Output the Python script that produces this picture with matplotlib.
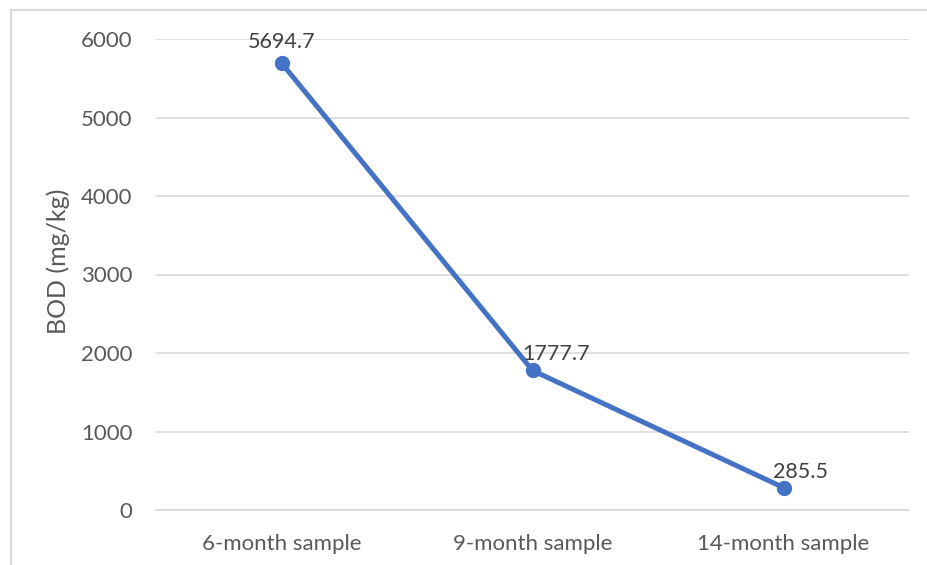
import matplotlib
matplotlib.use('Agg')
from matplotlib import pyplot as plt
from matplotlib.lines import Line2D

# Data
samples = ['6-month sample', '9-month sample', '14-month sample']
bod = [5694.7, 1777.7, 285.5]
label_text = ['5694.7', '1777.7', '285.5']
# small per-label nudges (points) like the hand-placed Excel labels
label_dx = [0, 17, 12]
label_dy = [15, 11.5, 11.5]

plt.rcParams['font.family'] = ['Lato', 'DejaVu Sans']

fig = plt.figure(figsize=(9.27, 5.65), dpi=100)
ax = fig.add_axes([156 / 927, 1 - 510 / 565, (909 - 156) / 927, (510 - 39) / 565])

x = range(len(samples))
ax.plot(x, bod, color='#4472C4', linewidth=3.6, marker='o', markersize=10,
        solid_capstyle='round', zorder=3)

for i, v in enumerate(bod):
    ax.annotate(label_text[i], (i, v), xytext=(label_dx[i], label_dy[i]),
                textcoords='offset points', ha='center', va='center',
                fontsize=15.5, color='#404040', zorder=4)

ax.set_xlim(-0.5, len(samples) - 0.5)
ax.set_ylim(0, 6000)
ax.set_yticks(range(0, 6001, 1000))
ax.set_xticks(list(x))
ax.set_xticklabels(samples)

ax.grid(axis='y', color='#D9D9D9', linewidth=1.2)
ax.set_axisbelow(True)
for s in ['top', 'right', 'left']:
    ax.spines[s].set_visible(False)
ax.spines['bottom'].set_color('#D9D9D9')
ax.spines['bottom'].set_linewidth(1.2)
ax.tick_params(axis='both', length=0, labelsize=16, colors='#595959')
ax.tick_params(axis='y', pad=17)
ax.tick_params(axis='x', pad=17)

ax.set_ylabel('BOD (mg/kg)', fontsize=18, color='#595959')
ax.yaxis.set_label_coords(-0.114, 0.528)

# chart frame (cropped on right and bottom)
fx = 11 / 927
fy = 1 - 10 / 565
fig.add_artist(Line2D([fx, fx], [0, fy], color='#D9D9D9', linewidth=1.5))
fig.add_artist(Line2D([fx, 1], [fy, fy], color='#D9D9D9', linewidth=1.5))

fig.savefig('out.png', dpi=100, facecolor='white')
